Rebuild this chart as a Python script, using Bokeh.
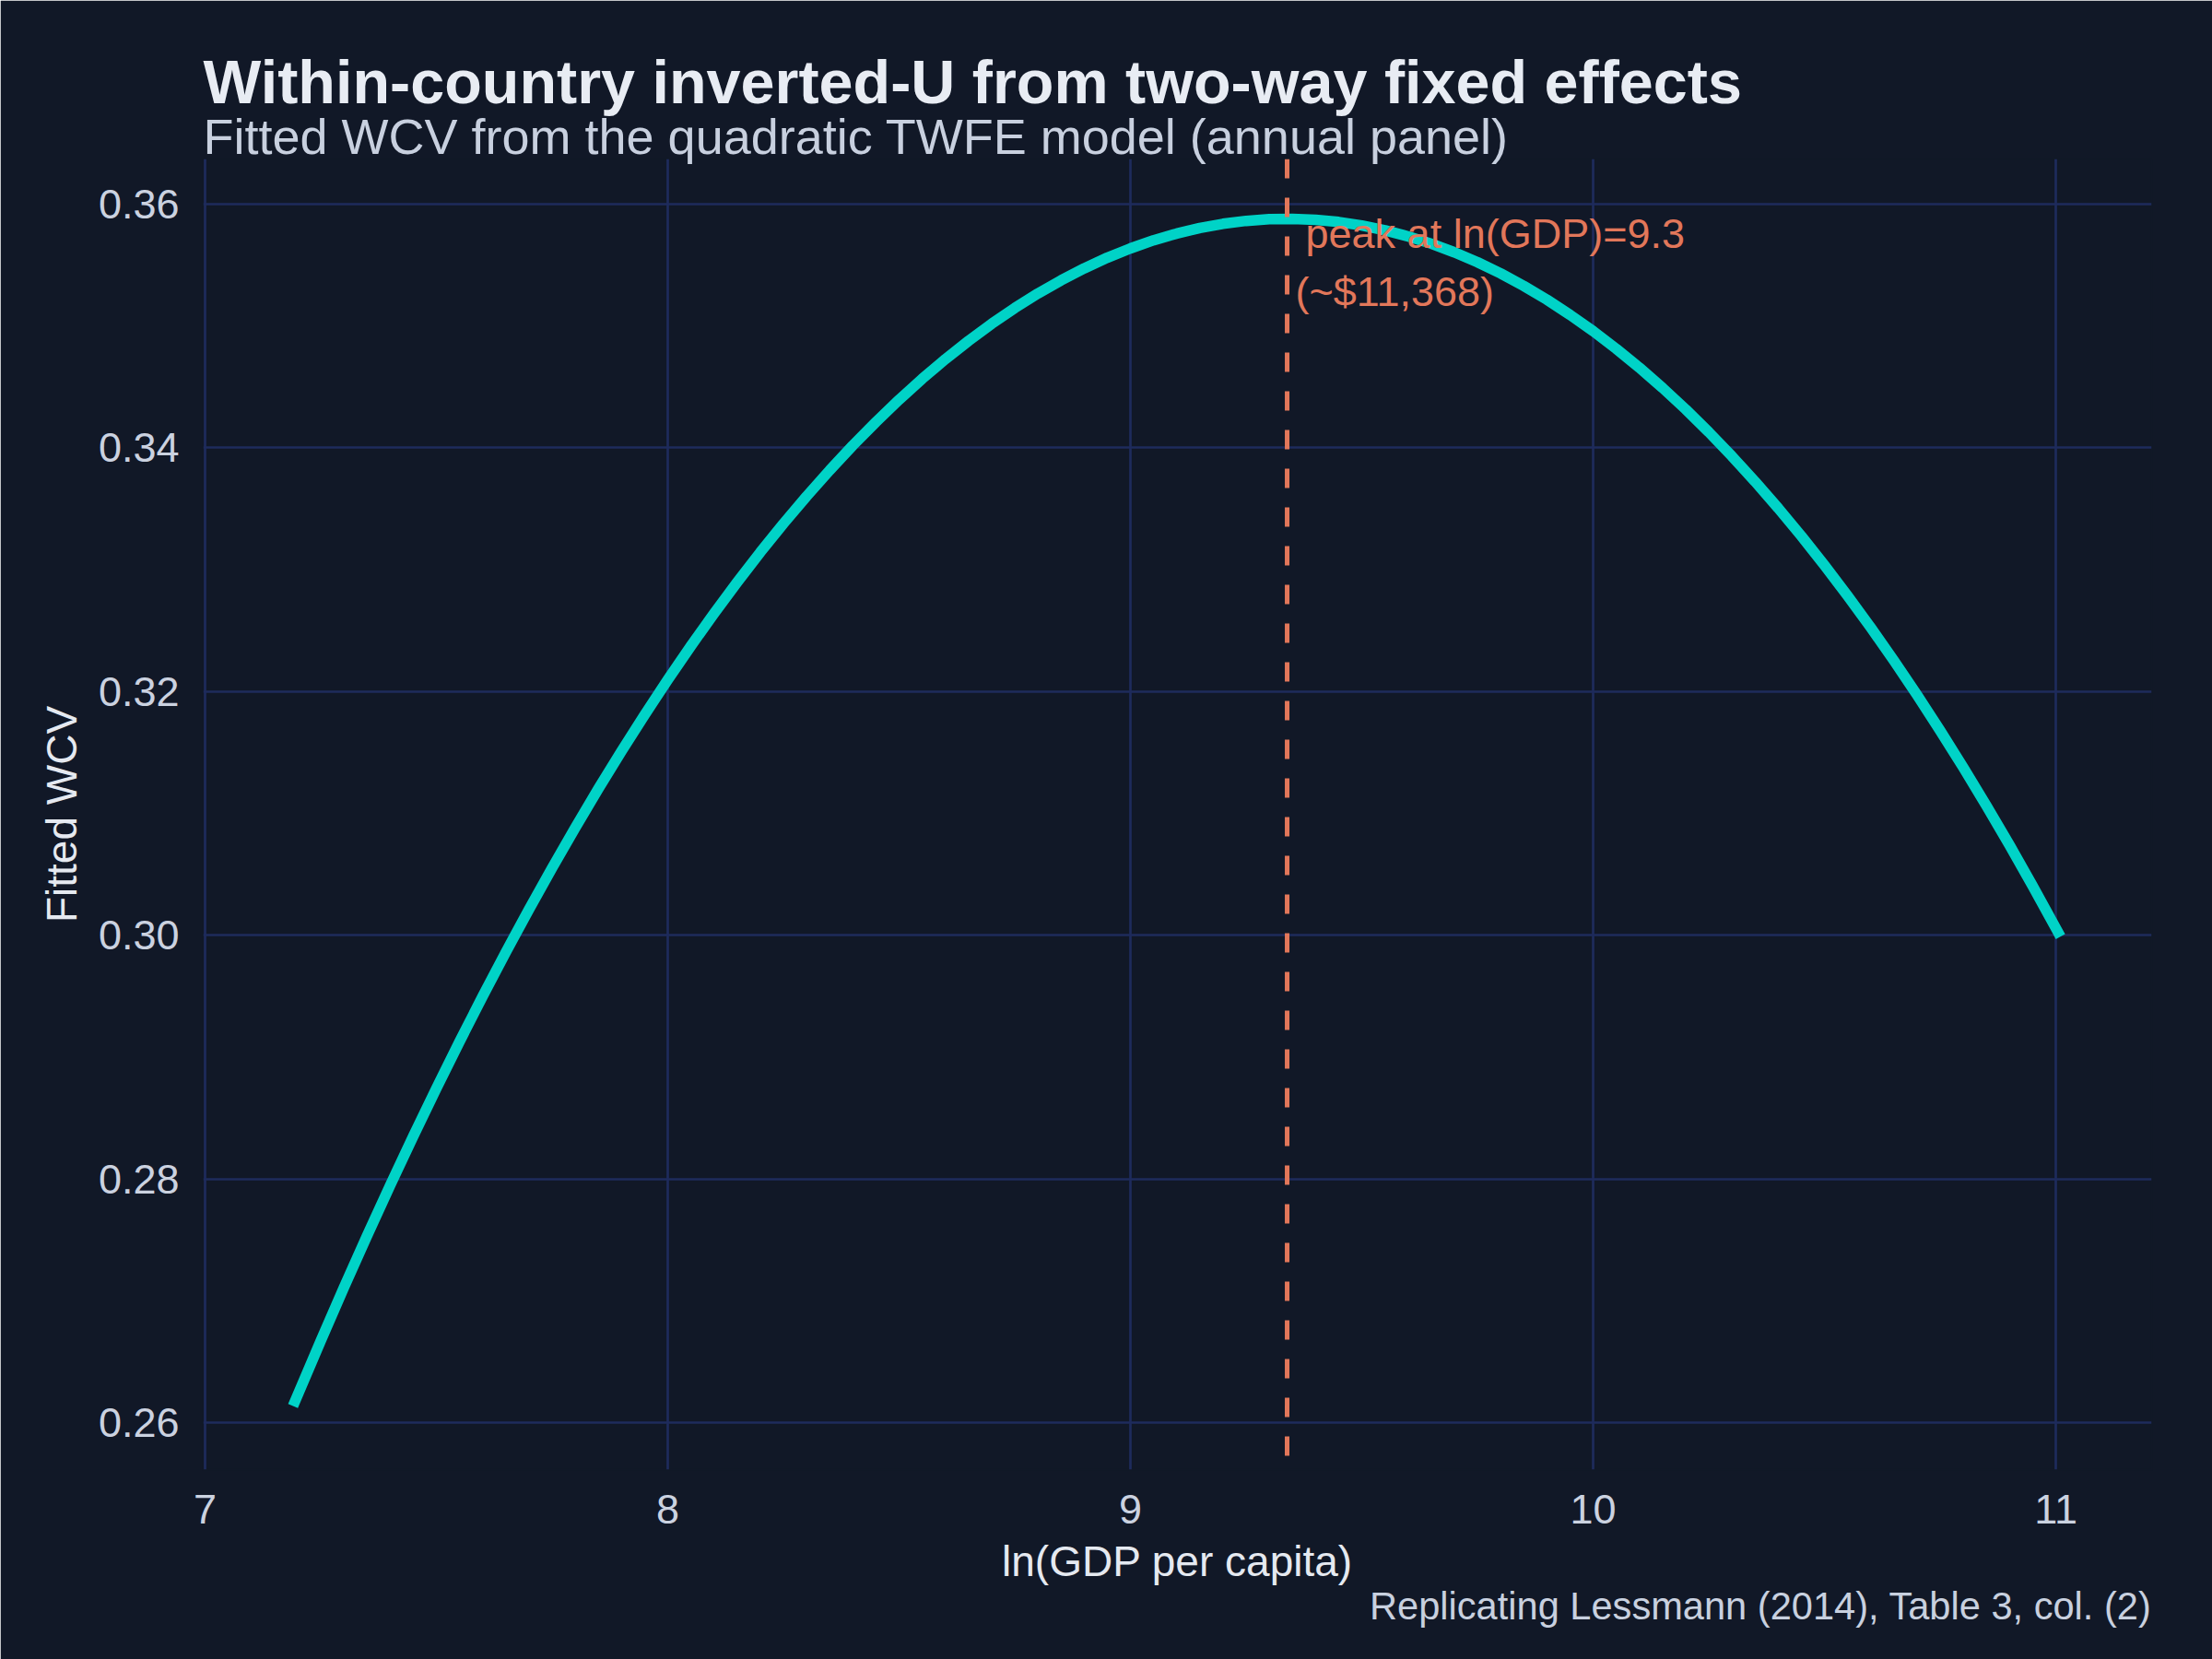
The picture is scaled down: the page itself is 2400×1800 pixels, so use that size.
from bokeh.plotting import figure
from bokeh.models import Label, FixedTicker, NumeralTickFormatter, Span, ColumnDataSource, Title
from bokeh.embed import file_html
from bokeh.resources import INLINE

# ---- data ----
ln_gdp = [7.19, 7.25, 7.30, 7.35, 7.40, 7.45, 7.50, 7.55, 7.60, 7.65, 7.70, 7.75,
          7.80, 7.85, 7.90, 7.95, 8.00, 8.05, 8.10, 8.15, 8.20, 8.25, 8.30, 8.35,
          8.40, 8.45, 8.50, 8.55, 8.60, 8.65, 8.70, 8.75, 8.80, 8.85, 8.90, 8.95,
          9.00, 9.05, 9.10, 9.15, 9.20, 9.25, 9.30, 9.35, 9.40, 9.45, 9.50, 9.55,
          9.60, 9.65, 9.70, 9.75, 9.80, 9.85, 9.90, 9.95, 10.00, 10.05, 10.10,
          10.15, 10.20, 10.25, 10.30, 10.35, 10.40, 10.45, 10.50, 10.55, 10.60,
          10.65, 10.70, 10.75, 10.80, 10.85, 10.90, 10.95, 11.01]
fitted_wcv = [0.26136, 0.26672, 0.27108, 0.27533, 0.27947, 0.28351, 0.28744,
              0.29127, 0.29499, 0.29861, 0.30212, 0.30552, 0.30882, 0.31202,
              0.31511, 0.31809, 0.32097, 0.32374, 0.32641, 0.32897, 0.33143,
              0.33378, 0.33602, 0.33816, 0.34020, 0.34212, 0.34395, 0.34567,
              0.34728, 0.34878, 0.35018, 0.35148, 0.35267, 0.35375, 0.35473,
              0.35561, 0.35637, 0.35704, 0.35759, 0.35805, 0.35839, 0.35863,
              0.35877, 0.35880, 0.35872, 0.35854, 0.35825, 0.35786, 0.35736,
              0.35676, 0.35605, 0.35524, 0.35432, 0.35329, 0.35216, 0.35092,
              0.34958, 0.34813, 0.34658, 0.34492, 0.34316, 0.34129, 0.33931,
              0.33723, 0.33505, 0.33276, 0.33036, 0.32786, 0.32525, 0.32254,
              0.31972, 0.31679, 0.31376, 0.31063, 0.30739, 0.30404, 0.29989]
peak_x = 9.3386
peak_label_1 = "peak at ln(GDP)=9.3"
peak_label_2 = "(~$11,368)"
x_ticks = [7, 8, 9, 10, 11]
y_ticks = [0.26, 0.28, 0.30, 0.32, 0.34, 0.36]

title_text = "Within-country inverted-U from two-way fixed effects"
subtitle_text = "Fitted WCV from the quadratic TWFE model (annual panel)"
caption_text = "Replicating Lessmann (2014), Table 3, col. (2)"
x_title = "ln(GDP per capita)"
y_title = "Fitted WCV"

# ---- style ----
BG = "#111827"
GRID = "#1E2B5C"
TEAL = "#00D3C7"
ORANGE = "#E2775A"
FONT = "Liberation Sans"

FRAME_LEFT, FRAME_RIGHT, FRAME_TOP, FRAME_BOTTOM = 220, 2334, 172, 1594

p = figure(width=2400, height=1800, title=None, toolbar_location=None,
           output_backend="svg",
           x_range=(6.996, 11.207), y_range=(0.25614, 0.36371),
           min_border_left=FRAME_LEFT, min_border_right=2400 - FRAME_RIGHT,
           min_border_top=FRAME_TOP, min_border_bottom=1800 - FRAME_BOTTOM)
p.background_fill_color = BG
p.border_fill_color = BG
# outline in the background colour hides the thin seam at the frame edge
p.outline_line_color = BG
p.outline_line_width = 2.5

src = ColumnDataSource(dict(x=ln_gdp, y=fitted_wcv))
p.line("x", "y", source=src, line_width=11.5, line_color=TEAL, line_join="round")

p.add_layout(Span(location=peak_x, dimension="height", line_color=ORANGE,
                  line_width=5, line_dash="21 21"))

# grid
for g in (p.xgrid, p.ygrid):
    g.grid_line_color = GRID
    g.grid_line_width = 2.7
p.xgrid.ticker = FixedTicker(ticks=x_ticks)
p.ygrid.ticker = FixedTicker(ticks=y_ticks)

# axes
p.xaxis.ticker = FixedTicker(ticks=x_ticks)
p.yaxis.ticker = FixedTicker(ticks=y_ticks)
p.xaxis.formatter = NumeralTickFormatter(format="0")
p.yaxis.formatter = NumeralTickFormatter(format="0.00")
for ax in (p.xaxis[0], p.yaxis[0]):
    ax.axis_line_color = None
    ax.major_tick_line_color = None
    ax.minor_tick_line_color = None
    ax.major_tick_out = 0
    ax.major_tick_in = 0
    ax.minor_tick_out = 0
    ax.major_label_text_font = FONT
    ax.major_label_text_font_size = "45px"
    ax.major_label_text_color = "#CBD2E0"
    ax.axis_label_text_font = FONT
    ax.axis_label_text_font_size = "46px"
    ax.axis_label_text_font_style = "normal"
    ax.axis_label_text_color = "#E5E9F0"
p.xaxis.axis_label = x_title
p.yaxis.axis_label = y_title
p.xaxis.major_label_standoff = 27
p.xaxis.axis_label_standoff = 12
p.yaxis.major_label_standoff = 26
p.yaxis.axis_label_standoff = 11

# annotation
p.add_layout(Label(x=peak_x, y=0.35757, x_offset=20, text=peak_label_1,
                   text_font=FONT, text_font_size="45px", text_color=ORANGE,
                   text_baseline="alphabetic", text_align="left"))
p.add_layout(Label(x=peak_x, y=0.35280, x_offset=9, text=peak_label_2,
                   text_font=FONT, text_font_size="45px", text_color=ORANGE,
                   text_baseline="alphabetic", text_align="left"))

# titles and caption
p.add_layout(Title(text=subtitle_text, text_font=FONT, text_font_size="54px",
                   text_font_style="normal", text_color="#C8D0DF",
                   align="left", standoff=-10), "above")
p.add_layout(Title(text=title_text, text_font=FONT, text_font_size="66.5px",
                   text_font_style="bold", text_color="#E8ECF3",
                   align="left", standoff=-10), "above")
p.add_layout(Title(text=caption_text, text_font=FONT, text_font_size="41.6px",
                   text_font_style="normal", text_color="#C8D0DF",
                   align="right", standoff=-12), "below")

open("out.html", "w").write(file_html(p, INLINE))
